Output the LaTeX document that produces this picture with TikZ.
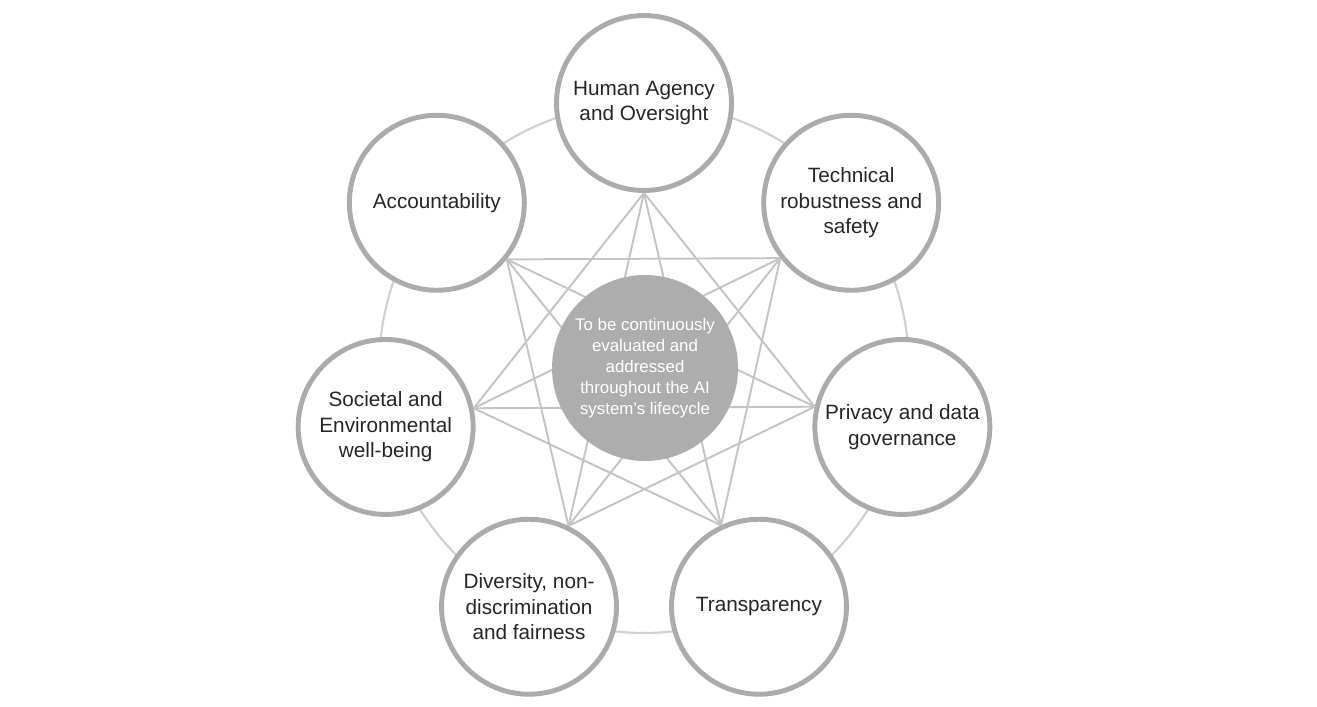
\documentclass[tikz,border=0pt]{standalone}
\usepackage{fontspec}
\setmainfont{Liberation Sans}
\usepackage{tikz}
\usetikzlibrary{positioning, calc}

\definecolor{rimgray}{HTML}{ABABAB}
\definecolor{linkgray}{HTML}{C4C4C4}
\definecolor{ringgray}{HTML}{D0D0D0}
\definecolor{coregray}{HTML}{ADADAD}

\begin{document}
\begin{tikzpicture}[x=0.02cm, y=0.02cm,
        principle/.style={circle, draw=rimgray, line width=2.8pt, fill=white,
            minimum size=3.5cm, inner sep=0pt, align=center, text=black!85,
            font=\fontsize{11.8}{14.6}\selectfont},
        core/.style={circle, fill=coregray, minimum size=3.72cm, inner sep=0pt,
            align=center, text=white, font=\fontsize{9.6}{11.9}\selectfont},
        link/.style={linkgray, line width=1.1pt}]
    \useasboundingbox (0,0) rectangle (1317,706);
    \coordinate (c) at (644,338);

    % ring behind the principles
    \draw[ringgray, line width=1.2pt] (c) circle (5.3cm);

    % the seven principles
    \foreach \i/\txt in {
        0/{Human Agency\\and Oversight},
        1/{Technical\\robustness and\\safety},
        2/{Privacy and data\\governance},
        3/{Transparency},
        4/{Diversity, non-\\discrimination\\and fairness},
        5/{Societal and\\Environmental\\well-being},
        6/{Accountability}}{
        \path (c) ++({90-\i*360/7}:265) node[principle] (p\i) {\txt};
        \pgfmathtruncatemacro{\dir}{mod(630-\i*360/7,360)}
        \coordinate (a\i) at (p\i.\dir);
    }

    % links between the principles
    \foreach \i in {0,...,6}
    {
        \foreach \k in {2,3}
        {
            \pgfmathtruncatemacro{\j}{mod(\i+\k,7)}
            \draw[link] (a\i) -- (a\j);
        }
    }

    % centre
    \node[core] (core) at (645,338) {To be continuously\\evaluated and\\addressed\\throughout the AI\\system's lifecycle};
\end{tikzpicture}
\end{document}
